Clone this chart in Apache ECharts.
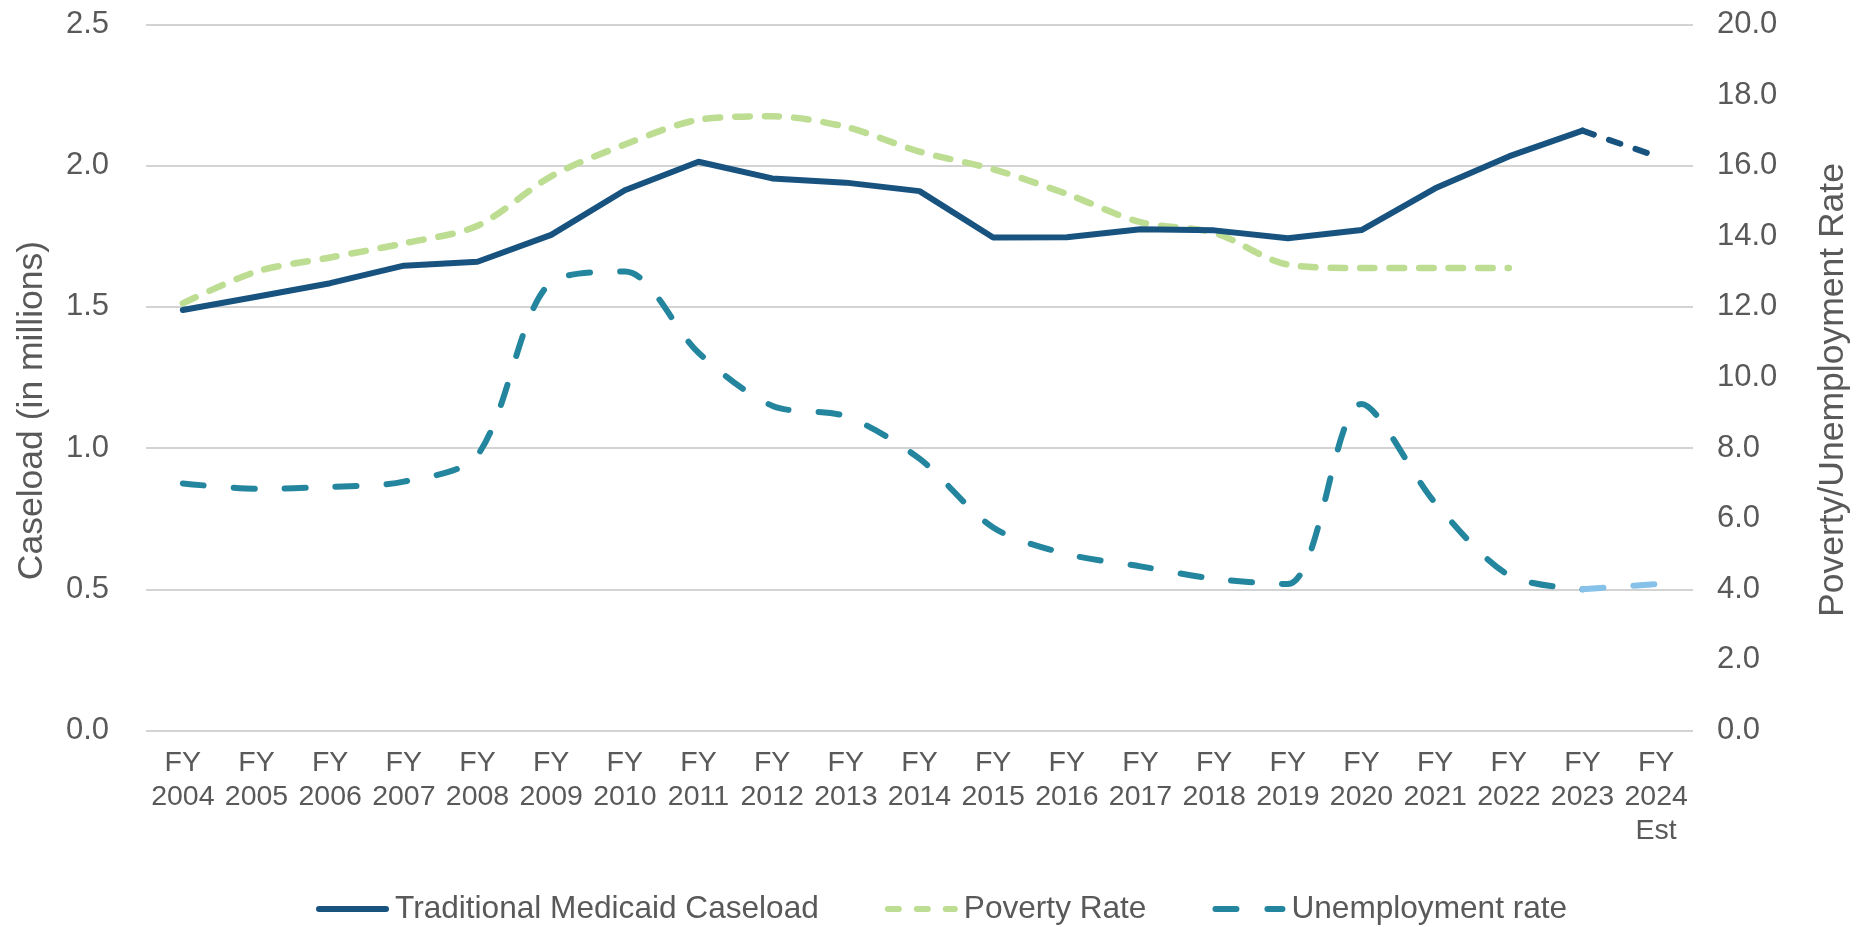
<!DOCTYPE html>
<html>
<head>
<meta charset="utf-8">
<script src="https://cdn.jsdelivr.net/npm/echarts@6/dist/echarts.min.js"></script>
<style>
  html, body { margin: 0; padding: 0; background: #ffffff; }
  #chart { width: 1871px; height: 927px; }
</style>
</head>
<body>
<div id="chart"></div>
<script>
const categories = ['FY\n2004','FY\n2005','FY\n2006','FY\n2007','FY\n2008','FY\n2009','FY\n2010','FY\n2011','FY\n2012','FY\n2013','FY\n2014','FY\n2015','FY\n2016','FY\n2017','FY\n2018','FY\n2019','FY\n2020','FY\n2021','FY\n2022','FY\n2023','FY\n2024\nEst'];
const caseload = [1.489, 1.536, 1.584, 1.646, 1.660, 1.755, 1.913, 2.014, 1.955, 1.940, 1.910, 1.746, 1.747, 1.775, 1.771, 1.743, 1.772, 1.920, 2.033, 2.124, '-'];
const caseloadEst = ['-','-','-','-','-','-','-','-','-','-','-','-','-','-','-','-','-','-','-', 2.124, 2.034];
const povertyRate = [12.1, 13.0, 13.4, 13.8, 14.3, 15.7, 16.6, 17.3, 17.4, 17.1, 16.4, 15.9, 15.2, 14.4, 14.1, 13.2, 13.1, 13.1, 13.1, '-', '-'];
const unemploymentRate = [7.0, 6.85, 6.9, 7.05, 7.8, 12.7, 13.0, 10.7, 9.2, 8.9, 7.7, 5.75, 5.0, 4.65, 4.3, 4.15, 9.25, 6.45, 4.4, 4.0, '-'];
const unemploymentEst = ['-','-','-','-','-','-','-','-','-','-','-','-','-','-','-','-','-','-','-', 4.0, 4.15];

const FONT = "'Liberation Sans', Arial, sans-serif";
const TXT = '#595959';

// legend icon shapes (73 x 6 box, rounded ends)
function seg(x1, x2) {
  return 'M' + (x1 + 3) + ',0 L' + (x2 - 3) + ',0 A3,3 0 0 1 ' + (x2 - 3) + ',6 L' + (x1 + 3) + ',6 A3,3 0 0 1 ' + (x1 + 3) + ',0 Z ';
}
const iconSolid = 'path://' + seg(0, 73);
const iconDots = 'path://' + seg(0, 17) + seg(29, 46) + seg(58, 73);
const iconDash = 'path://' + seg(0, 27) + seg(52, 73);

const chart = echarts.init(document.getElementById('chart'), null, { renderer: 'canvas' });
chart.setOption({
  animation: false,
  backgroundColor: '#ffffff',
  grid: { left: 146, right: 178, top: 24.5, bottom: 196.5, containLabel: false },
  legend: {
    data: [
      { name: 'Traditional Medicaid Caseload', icon: iconSolid },
      { name: 'Poverty Rate', icon: iconDots },
      { name: 'Unemployment rate', icon: iconDash }
    ],
    top: 893,
    left: 316,
    padding: 0,
    itemWidth: 73,
    itemHeight: 6,
    itemGap: 66,
    textStyle: { fontFamily: FONT, fontSize: 31.6, color: TXT, padding: [0, 0, 0, 1] }
  },
  xAxis: {
    type: 'category',
    data: categories,
    boundaryGap: true,
    axisLine: { show: false },
    axisTick: { show: false },
    axisLabel: { interval: 0, margin: 16, fontFamily: FONT, fontSize: 28.5, color: TXT, lineHeight: 34 }
  },
  yAxis: [
    {
      type: 'value', min: 0, max: 2.5, interval: 0.5, position: 'left',
      name: 'Caseload (in millions)', nameLocation: 'middle', nameRotate: 90, nameGap: 96,
      nameTextStyle: { fontFamily: FONT, fontSize: 35.5, color: TXT, padding: [0, 66, 0, 0] },
      axisLine: { show: false }, axisTick: { show: false },
      axisLabel: { margin: 37, fontFamily: FONT, fontSize: 31, color: TXT, formatter: v => v.toFixed(1) },
      splitLine: { show: true, lineStyle: { color: '#c4c4c4', width: 1.5 } }
    },
    {
      type: 'value', min: 0, max: 20, interval: 2, position: 'right',
      name: 'Poverty/Unemployment Rate', nameLocation: 'middle', nameRotate: 90, nameGap: 122,
      nameTextStyle: { fontFamily: FONT, fontSize: 35.5, color: TXT, padding: [0, 25, 0, 0] },
      axisLine: { show: false }, axisTick: { show: false },
      axisLabel: { margin: 24, fontFamily: FONT, fontSize: 31, color: TXT, formatter: v => v.toFixed(1) },
      splitLine: { show: false }
    }
  ],
  series: [
    {
      name: 'Traditional Medicaid Caseload', type: 'line', yAxisIndex: 0, data: caseload,
      symbol: 'none', z: 5,
      lineStyle: { color: '#185380', width: 6, cap: 'round', join: 'round' },
      itemStyle: { color: '#185380' }
    },
    {
      name: 'Caseload Est', type: 'line', yAxisIndex: 0, data: caseloadEst,
      symbol: 'none', z: 5,
      lineStyle: { color: '#185380', width: 6, type: [12, 16], cap: 'round', join: 'round' },
      itemStyle: { color: '#185380' }
    },
    {
      name: 'Poverty Rate', type: 'line', yAxisIndex: 1, data: povertyRate,
      symbol: 'none', smooth: 0.3, z: 4,
      lineStyle: { color: '#bddd92', width: 6.5, type: [14.5, 15], cap: 'round', join: 'round' },
      itemStyle: { color: '#bddd92' }
    },
    {
      name: 'Unemployment rate', type: 'line', yAxisIndex: 1, data: unemploymentRate,
      symbol: 'none', smooth: 0.3, z: 3,
      lineStyle: { color: '#23869e', width: 6, type: [21, 30], cap: 'round', join: 'round' },
      itemStyle: { color: '#23869e' }
    },
    {
      name: 'Unemployment Est', type: 'line', yAxisIndex: 1, data: unemploymentEst,
      symbol: 'none', z: 3,
      lineStyle: { color: '#85c1e9', width: 6, type: [21, 30], cap: 'round', join: 'round' },
      itemStyle: { color: '#85c1e9' }
    }
  ]
});
</script>
</body>
</html>
